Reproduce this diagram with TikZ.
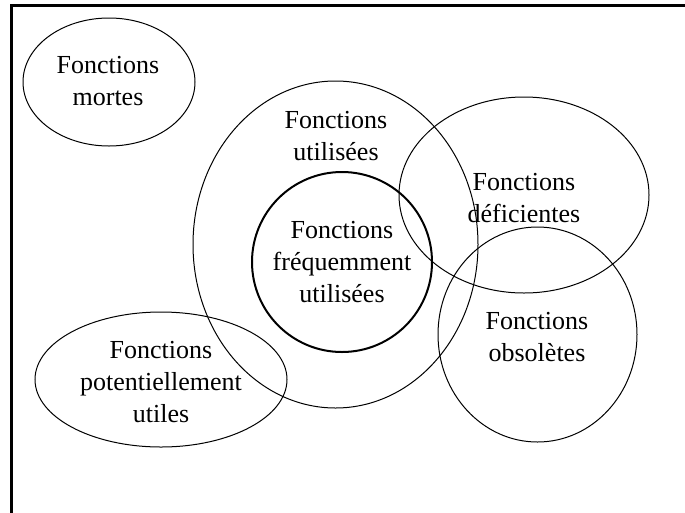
\documentclass[tikz,border=0pt]{standalone}
\usepackage{fontspec}
\setmainfont{Liberation Serif}
\usetikzlibrary{
	shapes.geometric,
	positioning
}

\begin{document}
\begin{tikzpicture}[
				x=1pt, y=-1pt,
				zone/.style={
					ellipse, draw, line width=1pt,
					inner sep=0pt, outer sep=0pt
				},
				thickzone/.style={
					zone, line width=2pt
				},
				caption/.style={
					align=center, inner sep=0pt,
					font=\fontsize{26}{32}\selectfont
				}
				]
				
				\useasboundingbox (0,0) rectangle (685,512);
				
				% frame
				\draw[line width=3pt] (11.5,520) -- (11.5,5.5) -- (695,5.5);
				
				% mortes
				\node[zone, minimum width=172, minimum height=128] (mortes) at (109,82) {};
				\node[caption] (txtMortes) at (108,81) {Fonctions\\mortes};
				
				% utilisees
				\node[zone, minimum width=285, minimum height=327] (utilisees) at (335.5,244.5) {};
				\node[caption] (txtUtilisees) at (336,136) {Fonctions\\utilisées};
				
				% frequemment utilisees (highlighted)
				\node[thickzone, minimum width=180, minimum height=180] (frequentes) at (342,262) {};
				\node[caption] (txtFrequentes) at (342,262) {Fonctions\\fréquemment\\utilisées};
				
				% deficientes
				\node[zone, minimum width=250, minimum height=196] (deficientes) at (524,195) {};
				\node[caption] (txtDeficientes) at (524,198) {Fonctions\\déficientes};
				
				% obsoletes
				\node[zone, minimum width=199, minimum height=215] (obsoletes) at (537.5,334.5) {};
				\node[caption] (txtObsoletes) at (537,337) {Fonctions\\obsolètes};
				
				% potentiellement utiles
				\node[zone, minimum width=252, minimum height=135] (potentielles) at (161,379.5) {};
				\node[caption] (txtPotentielles) at (161,382) {Fonctions\\potentiellement\\utiles};
			\end{tikzpicture}
\end{document}
